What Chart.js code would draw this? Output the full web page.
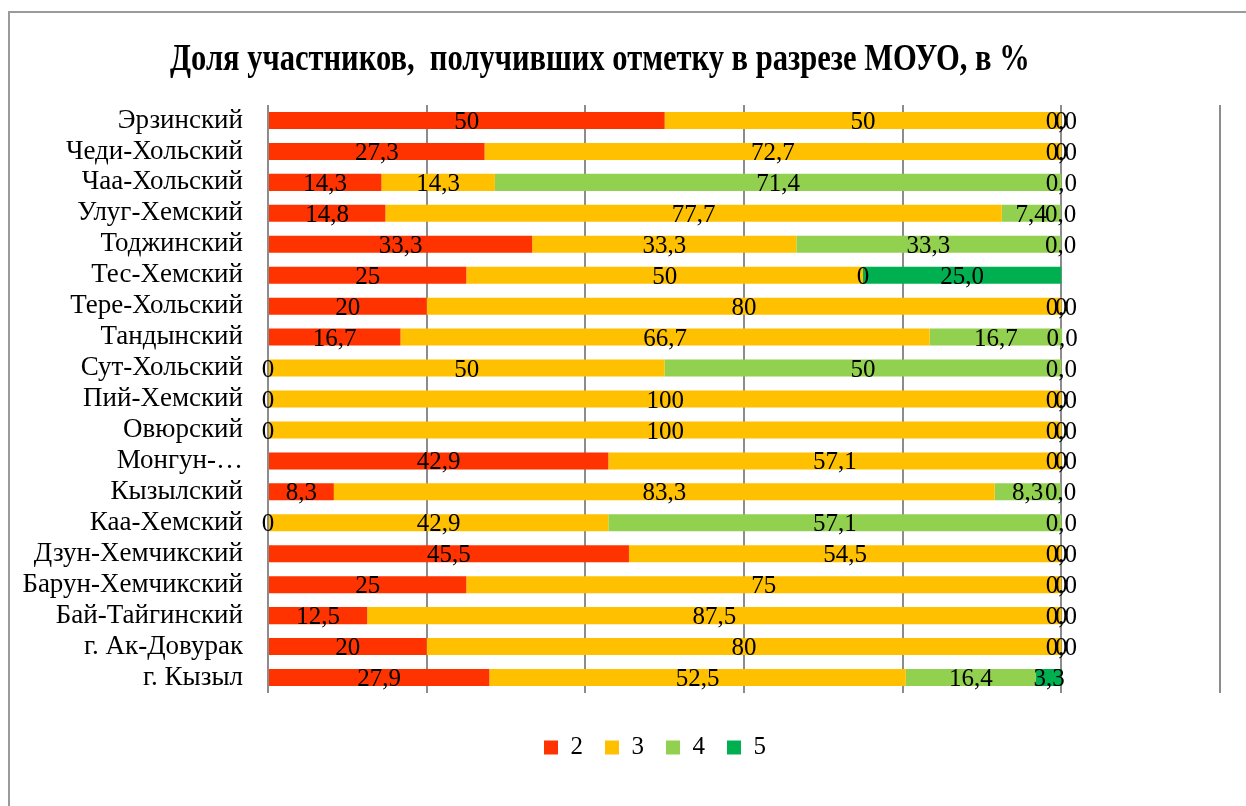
<!DOCTYPE html>
<html>
<head>
<meta charset="utf-8">
<script src="https://cdn.jsdelivr.net/npm/chart.js@4/dist/chart.umd.min.js"></script>
<style>
  html, body { margin: 0; padding: 0; background: #fff; overflow: hidden; }
  #wrap { position: relative; width: 1246px; height: 806px; }
  #frame { position: absolute; left: 8px; top: 11px; width: 1400px; height: 900px; border: 2px solid #9a9a9a; box-sizing: border-box; }
  #title { position: absolute; left: 170px; top: 35px; font: bold 38px "Liberation Serif", "Times New Roman", serif; white-space: nowrap; transform-origin: left top; color: #000; }
  canvas { position: absolute; left: 0; top: 0; }
</style>
</head>
<body>
<div id="wrap">
  <div id="frame"></div>
  <canvas id="chart" width="1246" height="806"></canvas>
  <div id="title">Доля участников,&nbsp; получивших отметку в разрезе МОУО, в %</div>
</div>
<script>
const byId = (id) => document.getElementById(id);

const districts = [
  "Эрзинский", "Чеди-Хольский", "Чаа-Хольский", "Улуг-Хемский", "Тоджинский",
  "Тес-Хемский", "Тере-Хольский", "Тандынский", "Сут-Хольский", "Пий-Хемский",
  "Овюрский", "Монгун-…", "Кызылский", "Каа-Хемский", "Дзун-Хемчикский",
  "Барун-Хемчикский", "Бай-Тайгинский", "г. Ак-Довурак", "г. Кызыл",
];
const grade2 = [50, 27.3, 14.3, 14.8, 33.3, 25, 20, 16.7, 0, 0, 0, 42.9, 8.3, 0, 45.5, 25, 12.5, 20, 27.9];
const grade3 = [50, 72.7, 14.3, 77.7, 33.3, 50, 80, 66.7, 50, 100, 100, 57.1, 83.3, 42.9, 54.5, 75, 87.5, 80, 52.5];
const grade4 = [0, 0, 71.4, 7.4, 33.3, 0, 0, 16.7, 50, 0, 0, 0, 8.3, 57.1, 0, 0, 0, 0, 16.4];
const grade5 = [0, 0, 0, 0, 0, 25, 0, 0, 0, 0, 0, 0, 0, 0, 0, 0, 0, 0, 3.3];

const seriesNames = ["2", "3", "4", "5"];
const seriesColors = ["#ff3300", "#ffc000", "#92d050", "#00b050"];
const serif = "'Liberation Serif', 'Times New Roman', serif";

// fit the compressed bold title to the reference width
const title = byId("title");
title.style.transform = `scaleX(${860 / title.offsetWidth})`;

const fmt = (v, ds) => (ds === 3 ? v.toFixed(1) : String(v)).replace(".", ",");

const barLabels = {
  id: "barLabels",
  afterDatasetsDraw(chart) {
    const ctx = chart.ctx;
    ctx.save();
    ctx.font = `25px ${serif}`;
    ctx.fillStyle = "#000";
    ctx.textAlign = "center";
    ctx.textBaseline = "middle";
    chart.data.datasets.forEach((ds, i) => {
      chart.getDatasetMeta(i).data.forEach((bar, j) => {
        ctx.fillText(fmt(ds.data[j], i), (bar.x + bar.base) / 2, bar.y + 2);
      });
    });
    ctx.restore();
  },
};

// the original chart is wider than the window, so its legend sits right of centre
const legendShift = {
  id: "legendShift",
  afterLayout(chart) {
    const lg = chart.legend;
    const dx = 655 - (lg.left + lg.right) / 2;
    lg.left += dx;
    lg.right += dx;
  },
};

new Chart(byId("chart"), {
  type: "bar",
  data: {
    labels: districts,
    datasets: [grade2, grade3, grade4, grade5].map((data, i) => ({
      label: seriesNames[i],
      data,
      backgroundColor: seriesColors[i],
      borderWidth: 0,
      barPercentage: 0.55,
      categoryPercentage: 1,
    })),
  },
  options: {
    indexAxis: "y",
    responsive: false,
    animation: false,
    layout: { padding: { left: 0, right: 26, top: 105, bottom: 36 } },
    scales: {
      x: {
        stacked: true,
        min: 0,
        max: 120,
        ticks: { display: false, stepSize: 20 },
        grid: { color: "#8c8c8c", lineWidth: 2, drawTicks: false },
        border: { display: false },
        afterFit: (s) => { s.height = 20; },
      },
      y: {
        stacked: true,
        grid: { display: false },
        border: { display: false },
        ticks: { color: "#000", font: { family: serif, size: 27 }, padding: 17, autoSkip: false },
        afterFit: (s) => { s.width = 268; },
      },
    },
    plugins: {
      legend: {
        position: "bottom",
        labels: { boxWidth: 14, boxHeight: 14, padding: 22, color: "#000", font: { family: serif, size: 25 } },
      },
      title: { display: false },
      tooltip: { enabled: false },
    },
  },
  plugins: [barLabels, legendShift],
});
</script>
</body>
</html>
